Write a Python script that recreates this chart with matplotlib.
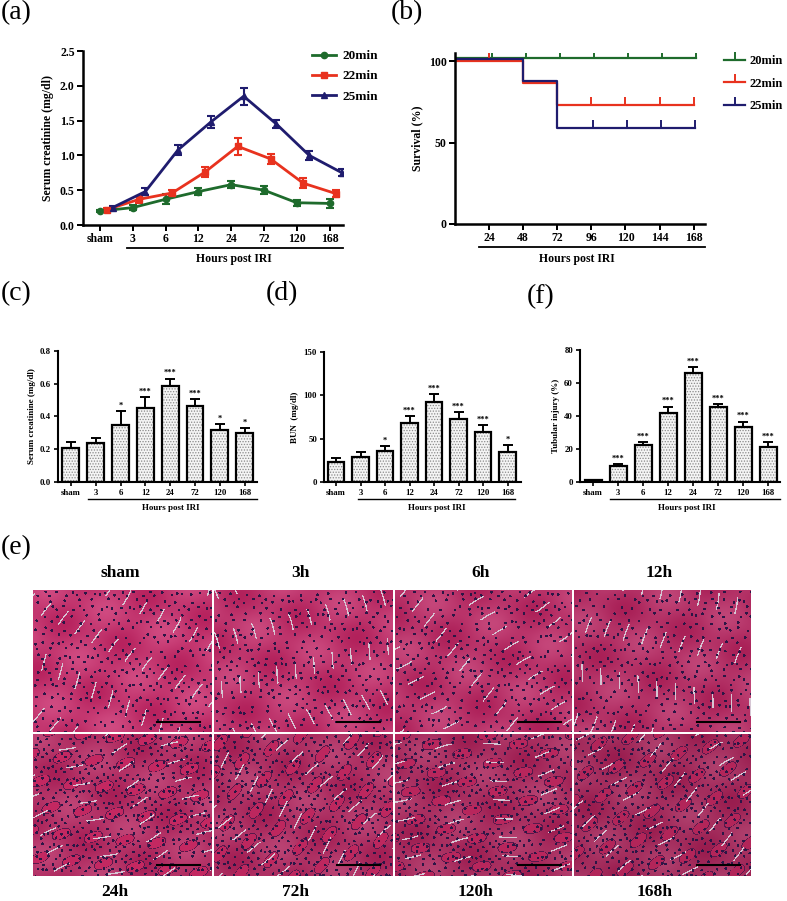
import numpy as np
import matplotlib
matplotlib.use("Agg")
import matplotlib.pyplot as plt
from matplotlib.lines import Line2D
from matplotlib.colors import to_rgb

plt.rcParams["font.family"] = ["Liberation Serif", "DejaVu Serif"]
plt.rcParams["font.weight"] = "bold"
plt.rcParams["axes.labelweight"] = "bold"
plt.rcParams["hatch.linewidth"] = 0.6

W, H = 787, 901

# ---- (a) serum creatinine time course
time_labels = ["sham", "3", "6", "12", "24", "72", "120", "168"]
cr20 = [0.20, 0.25, 0.37, 0.48, 0.58, 0.50, 0.32, 0.31]
cr20_err = [0.02, 0.04, 0.07, 0.05, 0.05, 0.06, 0.04, 0.06]
cr22 = [0.22, 0.37, 0.46, 0.76, 1.13, 0.95, 0.60, 0.45]
cr22_err = [0.02, 0.05, 0.05, 0.07, 0.12, 0.07, 0.07, 0.05]
cr25 = [0.25, 0.48, 1.08, 1.48, 1.85, 1.45, 1.00, 0.75]
cr25_err = [0.02, 0.05, 0.07, 0.09, 0.12, 0.06, 0.06, 0.05]

# ---- (b) survival
surv_ticks = [24, 48, 72, 96, 120, 144, 168]
t20 = [0, 170]
s20 = [102, 102]
t22 = [0, 48, 72, 168]
s22 = [100, 86.7, 73.3, 73.3]
t25 = [0, 48, 72, 169]
s25 = [101.2, 88, 59, 59]
cens20_t = [26, 50, 74, 98, 122, 146, 170]
cens20_s = [102, 102, 102, 102, 102, 102, 102]
cens22_t = [24, 96, 120, 144, 168]
cens22_s = [100, 73.3, 73.3, 73.3, 73.3]
cens25_t = [97, 121, 145, 169]
cens25_s = [59, 59, 59, 59]

# ---- (c) serum creatinine bars
scr = [0.21, 0.238, 0.35, 0.453, 0.585, 0.467, 0.319, 0.30]
scr_err = [0.037, 0.03, 0.083, 0.065, 0.047, 0.039, 0.036, 0.027]
scr_sig = ["", "", "*", "***", "***", "***", "*", "*"]

# ---- (d) BUN bars
bun = [23, 28.8, 35.4, 68, 92, 72.7, 57.7, 34.6]
bun_err = [4.7, 5.8, 5.6, 7.8, 9, 8.1, 7.7, 8.4]
bun_sig = ["", "", "*", "***", "***", "***", "***", "*"]

# ---- (f) tubular injury bars
tub = [1.0, 9.5, 22.2, 41.7, 66.3, 45.3, 33.6, 21.1]
tub_err = [0.4, 1.4, 1.8, 4.0, 3.2, 2.2, 3.0, 3.1]
tub_sig = ["", "***", "***", "***", "***", "***", "***", "***"]

# ---- (e) histology panels
he_top = ["sham", "3h", "6h", "12h"]
he_bottom = ["24h", "72h", "120h", "168h"]

GREEN = "#1e6b2c"
RED = "#e8321e"
NAVY = "#1f1c6e"

fig = plt.figure(figsize=(W / 100, H / 100), dpi=100)


def add_ax(x0, y0, x1, y1):
    return fig.add_axes([x0 / W, 1 - y1 / H, (x1 - x0) / W, (y1 - y0) / H])


def fig_line(x0, x1, y, lw=1.3):
    fig.add_artist(Line2D([x0 / W, x1 / W], [1 - y / H, 1 - y / H],
                          transform=fig.transFigure, color="black", lw=lw))


def fig_text(x, y, s, **kw):
    fig.text(x / W, 1 - y / H, s, **kw)


def style_axes(ax, lw=1.8, tick_fs=7.5):
    for side in ["top", "right"]:
        ax.spines[side].set_visible(False)
    for side in ["left", "bottom"]:
        ax.spines[side].set_linewidth(lw)
    ax.tick_params(direction="out", length=4, width=lw * 0.8,
                   labelsize=tick_fs, pad=2)


# (a)
ax = add_ax(83, 51, 343, 225)
x = np.arange(len(time_labels))
handles = []
for vals, err, off, col, mk in [
        (cr20, cr20_err, 0.0, GREEN, "o"),
        (cr22, cr22_err, 0.2, RED, "s"),
        (cr25, cr25_err, 0.38, NAVY, "^")]:
    ax.errorbar(x + off, vals, yerr=err, color=col, marker=mk, ms=4.5,
                lw=2, capsize=3, elinewidth=1.5, capthick=1.5)
    handles.append(Line2D([], [], color=col, marker=mk, ms=4.5, lw=2))
ax.set_xlim(-0.52, 7.41)
ax.set_ylim(0, 2.5)
ax.set_yticks(np.arange(0, 2.51, 0.5))
ax.set_yticklabels([f"{v:.1f}" for v in np.arange(0, 2.51, 0.5)])
ax.set_xticks(x)
ax.set_xticklabels(time_labels)
style_axes(ax, tick_fs=8.5)
ax.set_ylabel("Serum creatinine (mg/dl)", fontsize=8.5, labelpad=4)
ax.legend(handles, ["20min", "22min", "25min"], loc="upper left",
          bbox_to_anchor=(312 / W, 1 - 50 / H),
          bbox_transform=fig.transFigure, frameon=False, fontsize=9.5,
          handlelength=1.8, handletextpad=0.5, labelspacing=0.6,
          borderpad=0, borderaxespad=0)
fig_line(127, 343, 248)
fig_text(234, 259, "Hours post IRI", ha="center", va="center", fontsize=8.5)

# (b)
ax = add_ax(455, 53, 705, 224)
for tt, ss, ct, cs, col in [
        (t20, s20, cens20_t, cens20_s, GREEN),
        (t22, s22, cens22_t, cens22_s, RED),
        (t25, s25, cens25_t, cens25_s, NAVY)]:
    ax.step(tt, ss, where="post", color=col, lw=1.6)
    ax.plot(ct, cs, ls="none", marker=2, ms=6, mew=1.4, color=col)
ax.set_xlim(0, 176)
ax.set_ylim(0, 105)
ax.set_xticks(surv_ticks)
ax.set_yticks([0, 50, 100])
style_axes(ax, tick_fs=8.5)
ax.set_ylabel("Survival (%)", fontsize=8.5, labelpad=4)
handles = [Line2D([], [], color=c, lw=1.6, marker=2, ms=6, mew=1.4)
           for c in (GREEN, RED, NAVY)]
ax.legend(handles, ["20min", "22min", "25min"], loc="upper left",
          bbox_to_anchor=(724 / W, 1 - 55 / H), bbox_transform=fig.transFigure,
          frameon=False, fontsize=9, handlelength=1.7, handletextpad=0.35,
          labelspacing=0.85, borderpad=0, borderaxespad=0)
fig_line(479, 705, 247)
fig_text(577, 259, "Hours post IRI", ha="center", va="center", fontsize=8.5)


# bar panels
def bar_panel(box, vals, errs, sigs, ylim, yticks, fmt, ylabel, xlim,
              line_x, label_x):
    ax = add_ax(*box)
    xb = np.arange(len(vals))
    ax.bar(xb, vals, 0.68, color="#f4f4f4", edgecolor="#8a8a8a",
           hatch="......", lw=0, zorder=2)
    ax.bar(xb, vals, 0.68, fill=False, edgecolor="black", lw=1.6, zorder=3)
    ax.errorbar(xb, vals, yerr=[np.zeros(len(vals)), errs], fmt="none",
                ecolor="black", elinewidth=1.4, capsize=3.5, capthick=1.4,
                zorder=1)
    span = ylim[1] - ylim[0]
    for xi, v, e, s in zip(xb, vals, errs, sigs):
        if s:
            ax.text(xi, v + e + 0.01 * span, s, ha="center", va="bottom",
                    fontsize=6)
    ax.set_xlim(*xlim)
    ax.set_ylim(*ylim)
    ax.set_yticks(yticks)
    ax.set_yticklabels([fmt.format(t) for t in yticks])
    ax.set_xticks(xb)
    ax.set_xticklabels(time_labels)
    style_axes(ax, lw=1.5, tick_fs=6.3)
    ax.tick_params(length=3)
    ax.set_ylabel(ylabel, fontsize=6.5, labelpad=3)
    fig_line(line_x[0], line_x[1], 499.5, lw=1.0)
    fig_text(label_x, 508, "Hours post IRI", ha="center", va="center",
             fontsize=6.5)
    return ax


bar_panel((58, 351, 257, 482), scr, scr_err, scr_sig, (0, 0.8),
          [0, 0.2, 0.4, 0.6, 0.8], "{:.1f}", "Serum creatinine (mg/dl)",
          (-0.52, 7.5), (88, 257), 171)
bar_panel((324, 352, 521, 482), bun, bun_err, bun_sig, (0, 150),
          [0, 50, 100, 150], "{:.0f}", "BUN  (mg/dl)",
          (-0.49, 7.55), (358, 515), 437)
bar_panel((580, 350, 780, 482), tub, tub_err, tub_sig, (0, 80),
          [0, 20, 40, 60, 80], "{:.0f}", "Tubular injury (%)",
          (-0.52, 7.48), (610, 780), 687)

# (e) H&E-like tiles, deterministic texture standing in for the micrographs
cols = [33, 213, 394, 573, 752]
rows = [590, 733, 877]
lumen = np.array(to_rgb("#d6c6d4"))
nucleus = np.array(to_rgb("#2c1646"))
angles = [0.5, -0.25, 0.9, 0.2, 1.2, 0.7, 1.4, 0.9]
k = 0
for r in range(2):
    for c in range(4):
        x0, x1 = cols[c] + (1 if c else 0), cols[c + 1] - 1
        y0, y1 = rows[r] + (1 if r else 0), rows[r + 1] - 1
        w, h = x1 - x0, y1 - y0
        yy, xx = np.mgrid[0:h, 0:w].astype(float)
        ph = 1.7 * k + 0.4
        th = angles[k]
        a = xx * np.cos(th) + yy * np.sin(th)
        b = -xx * np.sin(th) + yy * np.cos(th)
        # tissue shading
        g = (np.sin(0.09 * xx + 0.05 * yy + ph)
             + np.sin(0.04 * xx - 0.11 * yy + 2 * ph)) / 2
        dim = 0.97 - 0.08 * r - 0.025 * c
        base = np.array([0.74, 0.14, 0.38]) * dim
        hi = np.array([0.84, 0.30, 0.52]) * dim
        tt = np.clip((g + 1) / 2, 0, 1)[..., None]
        img = base * (1 - tt) + hi * tt
        # tubule casts (bottom row): bright blobs with dark rims
        if r == 1:
            cb = np.sin(0.22 * a + ph) * np.sin(0.11 * b + 0.5 * ph)
            img[cb > 0.55] = np.array([0.86, 0.18, 0.43]) * dim
            img[(cb > 0.45) & (cb <= 0.55)] = np.array([0.35, 0.1, 0.3])
        # elongated lumens
        s = np.sin(0.33 * a + 1.6 * np.sin(0.05 * b + ph))
        m = np.sin(0.13 * b + 0.7 * ph)
        img[(s > 0.975) & (m > 0.45)] = lumen
        # scattered nuclei on a jittered lattice
        step = 7.0 - 1.0 * r
        u, v = xx / step, yy / step
        iu, iv = np.floor(u), np.floor(v)
        jx = 0.5 + 0.3 * np.sin(iu * 1.7 + iv * 2.3 + ph)
        jy = 0.5 + 0.3 * np.cos(iu * 2.9 - iv * 1.1 + ph)
        keep = np.sin(iu * 3.1 + iv * 1.7 + ph) > -0.55
        d2 = ((u - iu - jx) ** 2 + (v - iv - jy) ** 2) * step ** 2
        img[(d2 < 2.0) & keep] = nucleus
        axi = add_ax(x0, y0, x1, y1)
        axi.imshow(img, aspect="auto", interpolation="bilinear")
        axi.axis("off")
        k += 1
        bar_y = y1 - 10 if r == 0 else y1 - 11
        fig_line(cols[c] + 124, cols[c] + 167, bar_y, lw=1.5)

for c, lab in enumerate(he_top):
    fig_text((cols[c] + cols[c + 1]) / 2 - 3, 573, lab, ha="center",
             va="center", fontsize=12.5, fontweight="semibold")
for c, lab in enumerate(he_bottom):
    fig_text((cols[c] + cols[c + 1]) / 2 - 8, 892, lab, ha="center",
             va="center", fontsize=12.5, fontweight="semibold")

# panel letters
for lab, x, y in [("(a)", 1, 0), ("(b)", 391, 0), ("(c)", 1, 281),
                  ("(d)", 266, 281), ("(f)", 527, 284), ("(e)", 1, 535)]:
    fig_text(x, y, lab, ha="left", va="top", fontsize=20, fontweight="normal")

fig.savefig("out.png", dpi=100)
